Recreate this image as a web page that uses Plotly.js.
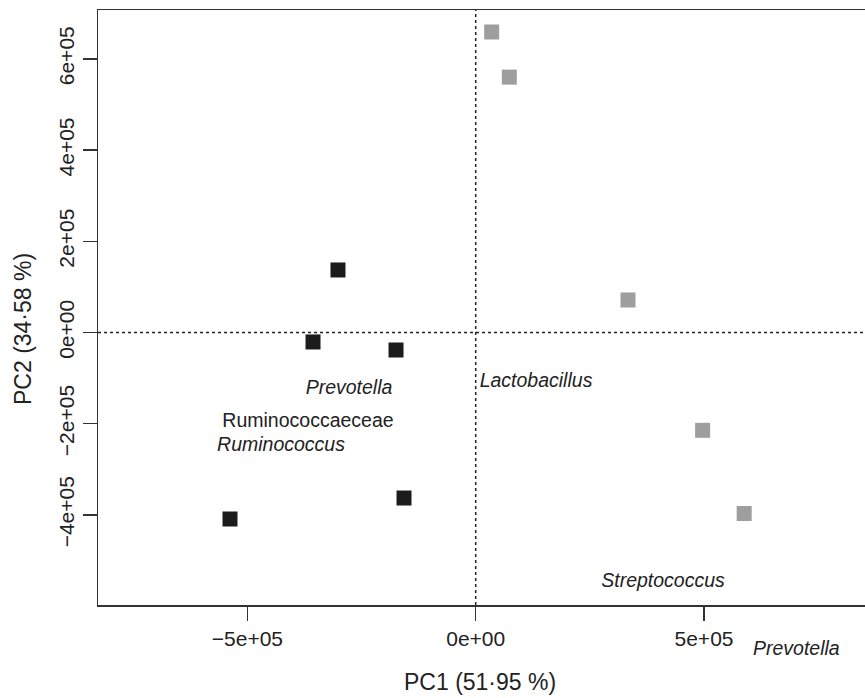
<!DOCTYPE html>
<html>
<head>
<meta charset="utf-8">
<script src="https://cdn.plot.ly/plotly-3.0.1.min.js"></script>
<style>html,body{margin:0;padding:0;background:#fff;}#chart{width:865px;height:698px;}</style>
</head>
<body>
<div id="chart"></div>
<script>
// PCA sample scores
const groupA_PC1 = [-301600, -356300, -174500, -157000, -538100];
const groupA_PC2 = [137100, -20800, -38400, -363000, -409000];
const groupB_PC1 = [35000, 73600, 333500, 497000, 588000];
const groupB_PC2 = [659000, 560000, 71300, -214500, -397000];

// Taxa labels (genus names, italic)
const genusNames = ["Prevotella", "Ruminococcus", "Lactobacillus", "Streptococcus", "Prevotella"];
const genusPC1 = [-277500, -426400, 132100, 410200, 701500];
const genusPC2 = [-123900, -248900, -108600, -547100, -691900];
// Family label
const familyNames = ["Ruminococcaeceae"];
const familyPC1 = [-367300];
const familyPC2 = [-196300];

// Axis ticks
const xTickVals = [-500000, 0, 500000];
const xTickText = ["\u22125e+05", "0e+00", "5e+05"];
const yTickVals = [-400000, -200000, 0, 200000, 400000, 600000];
const yTickText = ["\u22124e+05", "\u22122e+05", "0e+00", "2e+05", "4e+05", "6e+05"];

const xTitle = "PC1 (51\u00b795 %)";
const yTitle = "PC2 (34\u00b758 %)";

const FONT = '"Liberation Sans", Arial, Helvetica, sans-serif';
const INK = '#222222';
const X_RANGE = [-827200, 852600];
const Y_RANGE = [-597600, 707200];

// split labels: those inside the axis range go in a text trace,
// those outside (beyond the frame) become annotations
const inRange = (v, r) => v >= r[0] && v <= r[1];
const inIdx = [], outIdx = [];
genusNames.forEach((n, i) => {
  (inRange(genusPC1[i], X_RANGE) && inRange(genusPC2[i], Y_RANGE) ? inIdx : outIdx).push(i);
});

const traces = [
  {
    x: groupA_PC1, y: groupA_PC2, type: 'scatter', mode: 'markers',
    marker: {symbol: 'square', size: 15, color: '#1c1c1c', line: {width: 0}},
    hoverinfo: 'skip', showlegend: false
  },
  {
    x: groupB_PC1, y: groupB_PC2, type: 'scatter', mode: 'markers',
    marker: {symbol: 'square', size: 15, color: '#9e9e9e', line: {width: 0}},
    hoverinfo: 'skip', showlegend: false
  },
  {
    x: inIdx.map(i => genusPC1[i]), y: inIdx.map(i => genusPC2[i]),
    type: 'scatter', mode: 'text',
    text: inIdx.map(i => genusNames[i]), textposition: 'middle center', cliponaxis: false,
    textfont: {family: FONT, size: 19.5, color: INK, style: 'italic'},
    hoverinfo: 'skip', showlegend: false
  },
  {
    x: familyPC1, y: familyPC2, type: 'scatter', mode: 'text',
    text: familyNames, textposition: 'middle center', cliponaxis: false,
    textfont: {family: FONT, size: 19.5, color: INK},
    hoverinfo: 'skip', showlegend: false
  }
];

const outAnnotations = outIdx.map(i => ({
  text: '<i>' + genusNames[i] + '</i>',
  xref: 'x', x: genusPC1[i],
  yref: 'paper', y: (genusPC2[i] - Y_RANGE[0]) / (Y_RANGE[1] - Y_RANGE[0]),
  xanchor: 'center', yanchor: 'middle', showarrow: false,
  font: {family: FONT, size: 19.5, color: INK}
}));

const layout = {
  width: 865, height: 698,
  margin: {l: 98, r: 0, t: 10, b: 93, pad: 0},
  paper_bgcolor: '#ffffff', plot_bgcolor: '#ffffff',
  font: {family: FONT, size: 20, color: INK},
  showlegend: false,
  xaxis: {
    range: X_RANGE, showgrid: false, zeroline: false,
    showline: true, linecolor: '#333333', linewidth: 1.5, mirror: true,
    ticks: 'outside', ticklen: 14, tickwidth: 1.5, tickcolor: '#333333',
    tickvals: xTickVals, ticktext: xTickText,
    tickfont: {family: FONT, size: 21, color: INK}
  },
  yaxis: {
    range: Y_RANGE, showgrid: false, zeroline: false,
    showline: true, linecolor: '#333333', linewidth: 1.5,
    ticks: 'outside', ticklen: 14, tickwidth: 1.5, tickcolor: '#333333',
    tickvals: yTickVals, ticktext: yTickText, tickangle: -90,
    tickfont: {family: FONT, size: 21, color: INK}
  },
  shapes: [
    {type: 'line', xref: 'x', yref: 'paper', x0: 0, x1: 0, y0: 0, y1: 1,
     line: {color: '#222222', width: 1.5, dash: 'dot'}},
    {type: 'line', xref: 'paper', yref: 'y', x0: 0, x1: 1, y0: 0, y1: 0,
     line: {color: '#222222', width: 1.5, dash: 'dot'}}
  ],
  annotations: [
    {text: xTitle, xref: 'paper', yref: 'paper', x: (480 - 98) / 767, y: -(682 - 605) / 595,
     xanchor: 'center', yanchor: 'middle', showarrow: false,
     font: {family: FONT, size: 23, color: INK}},
    {text: yTitle, xref: 'paper', yref: 'paper', x: -(98 - 23) / 767, y: (605 - 329) / 595,
     xanchor: 'center', yanchor: 'middle', showarrow: false, textangle: -90,
     font: {family: FONT, size: 23, color: INK}}
  ].concat(outAnnotations)
};

Plotly.newPlot('chart', traces, layout, {displayModeBar: false, staticPlot: true});
</script>
</body>
</html>
